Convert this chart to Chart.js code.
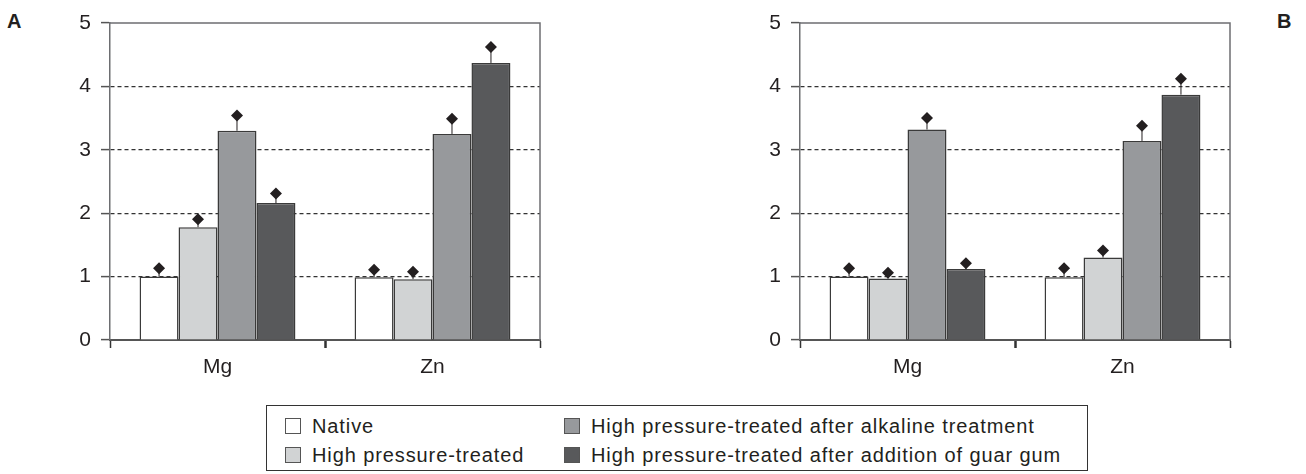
<!DOCTYPE html>
<html>
<head>
<meta charset="utf-8">
<script src="https://cdn.jsdelivr.net/npm/chart.js@4.4.0/dist/chart.umd.min.js"></script>
<style>
    body { margin: 0; background: #fff; font-family: 'Liberation Sans', Arial, sans-serif; color: #231f20; }
    #wrap { position: relative; width: 1306px; height: 474px; overflow: hidden; }
    .panel { position: absolute; top: 0; width: 600px; height: 400px; }
    .letter { position: absolute; font-weight: bold; font-size: 20px; line-height: 20px; }
    #legend {
        position: absolute; left: 266px; top: 405px; width: 822px; height: 66px;
        border: 1.5px solid #333; box-sizing: border-box;
    }
    .item { position: absolute; font-size: 20px; letter-spacing: 0.9px; line-height: 20px; white-space: nowrap; }
    .swatch { position: absolute; width: 14px; height: 14px; border: 1.5px solid #555; }
</style>
</head>
<body>
<div id="wrap">
    <div class="letter" style="left:7px; top:11px;">A</div>
    <div class="letter" style="left:1277px; top:11px;">B</div>
    <div class="panel" style="left:0px;"><canvas id="chartA"></canvas></div>
    <div class="panel" style="left:690px;"><canvas id="chartB"></canvas></div>
    <div id="legend"></div>
</div>
<script>
// categories and series labels
const categories = ['Mg', 'Zn'];
const seriesNames = [
    'Native',
    'High pressure-treated',
    'High pressure-treated after alkaline treatment',
    'High pressure-treated after addition of guar gum'
];
const yTicks = [0, 1, 2, 3, 4, 5];

// Panel A values (bar height) and upper error marks
const nativeA = [1.00, 0.99];
const highPressureA = [1.78, 0.96];
const alkalineA = [3.30, 3.25];
const guarGumA = [2.16, 4.37];
const nativeErrA = [1.13, 1.11];
const highPressureErrA = [1.905, 1.075];
const alkalineErrA = [3.54, 3.49];
const guarGumErrA = [2.31, 4.62];

// Panel B values
const nativeB = [1.00, 0.99];
const highPressureB = [0.97, 1.30];
const alkalineB = [3.32, 3.14];
const guarGumB = [1.12, 3.87];
const nativeErrB = [1.13, 1.13];
const highPressureErrB = [1.06, 1.41];
const alkalineErrB = [3.50, 3.38];
const guarGumErrB = [1.21, 4.12];

const seriesColors = ['#ffffff', '#d1d3d4', '#97999c', '#58595b']; // white, light, mid, dark gray
const textColor = '#231f20';

// Draws the plot frame (top and right) like the original figure
const framePlugin = {
    id: 'frame',
    beforeDatasetsDraw(chart) {
        const { ctx, chartArea } = chart;
        ctx.save();
        ctx.strokeStyle = '#6d6e71';
        ctx.lineWidth = 1.5;
        ctx.beginPath();
        ctx.moveTo(chartArea.left, chartArea.top);
        ctx.lineTo(chartArea.right, chartArea.top);
        ctx.lineTo(chartArea.right, chartArea.bottom);
        ctx.stroke();
        ctx.restore();
    }
};

// Error line from bar top up to a diamond marker
const errorPlugin = {
    id: 'errorDiamonds',
    afterDatasetsDraw(chart) {
        const ctx = chart.ctx;
        const yScale = chart.scales.y;
        chart.data.datasets.forEach((ds, i) => {
            const meta = chart.getDatasetMeta(i);
            meta.data.forEach((bar, j) => {
                const yTop = yScale.getPixelForValue(ds.errTop[j]);
                ctx.save();
                ctx.strokeStyle = textColor;
                ctx.lineWidth = 1;
                ctx.beginPath();
                ctx.moveTo(bar.x, bar.y);
                ctx.lineTo(bar.x, yTop);
                ctx.stroke();
                ctx.fillStyle = textColor;
                ctx.beginPath();
                ctx.moveTo(bar.x, yTop - 6);
                ctx.lineTo(bar.x + 6, yTop);
                ctx.lineTo(bar.x, yTop + 6);
                ctx.lineTo(bar.x - 6, yTop);
                ctx.closePath();
                ctx.fill();
                ctx.restore();
            });
        });
    }
};

function renderPanel(canvasId, values, errs) {
    const ctx = document.getElementById(canvasId).getContext('2d');
    new Chart(ctx, {
        type: 'bar',
        data: {
            labels: categories,
            datasets: seriesNames.map((name, i) => ({
                label: name,
                data: values[i],
                errTop: errs[i],
                backgroundColor: seriesColors[i],
                borderColor: '#3a3a3a',
                borderWidth: 1.5,
                borderSkipped: 'bottom',
                categoryPercentage: 0.725,
                barPercentage: 1.0
            }))
        },
        options: {
            responsive: true,
            maintainAspectRatio: false,
            animation: false,
            layout: { padding: { left: 0, top: 23, right: 60, bottom: 0 } },
            plugins: {
                legend: { display: false },
                tooltip: { enabled: false }
            },
            scales: {
                x: {
                    afterFit: (axis) => { axis.height = 60; },
                    grid: {
                        drawOnChartArea: false,
                        tickLength: 8,
                        tickColor: '#333',
                        // middle tick between the two groups is heavier
                        tickWidth: (c) => c.index === 1 ? 2.5 : 1.5
                    },
                    border: { color: '#555', width: 2 },
                    ticks: {
                        color: textColor,
                        padding: 7,
                        font: { family: "'Liberation Sans', Arial, sans-serif", size: 21 }
                    }
                },
                y: {
                    min: 0,
                    max: 5,
                    afterFit: (axis) => { axis.width = 110; },
                    afterBuildTicks: (axis) => { axis.ticks = yTicks.map(v => ({ value: v })); },
                    grid: {
                        color: (c) => (c.tick && (c.tick.value === 0 || c.tick.value === 5)) ? 'rgba(0,0,0,0)' : '#333',
                        lineWidth: 1.2,
                        tickLength: 9,
                        tickColor: '#555',
                        tickBorderDash: [],
                        tickWidth: 1.5
                    },
                    // in v4 the dash of the grid lines lives on the border options
                    border: { color: '#6d6e71', width: 1.5, dash: [4, 3] },
                    ticks: {
                        color: textColor,
                        padding: 10,
                        font: { family: "'Liberation Sans', Arial, sans-serif", size: 21 }
                    }
                }
            }
        },
        plugins: [framePlugin, errorPlugin]
    });
}

renderPanel('chartA',
    [nativeA, highPressureA, alkalineA, guarGumA],
    [nativeErrA, highPressureErrA, alkalineErrA, guarGumErrA]);
renderPanel('chartB',
    [nativeB, highPressureB, alkalineB, guarGumB],
    [nativeErrB, highPressureErrB, alkalineErrB, guarGumErrB]);

// Legend box below the panels, two columns
const legend = document.getElementById('legend');
const legendPos = [[18, 13], [18, 42], [297, 13], [297, 42]];
seriesNames.forEach((name, i) => {
    const [x, y] = legendPos[i];
    const sw = document.createElement('div');
    sw.className = 'swatch';
    sw.style.left = x + 'px';
    sw.style.top = (y - 1) + 'px';
    sw.style.background = seriesColors[i];
    legend.appendChild(sw);
    const item = document.createElement('div');
    item.className = 'item';
    item.style.left = (x + 27) + 'px';
    item.style.top = (y - 3) + 'px';
    item.textContent = name;
    legend.appendChild(item);
});
</script>
</body>
</html>
